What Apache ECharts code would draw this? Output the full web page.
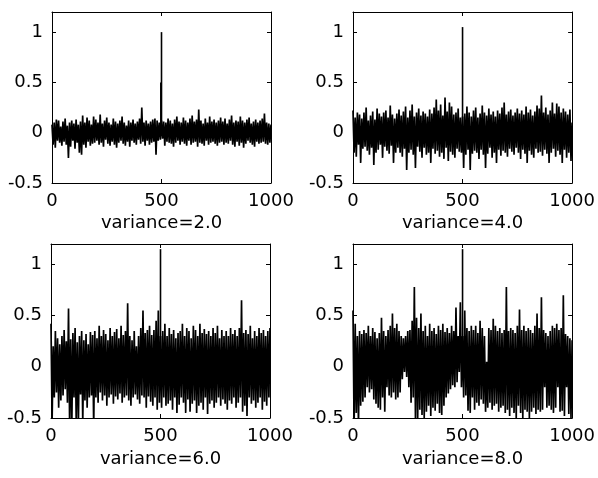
<!DOCTYPE html>
<html>
<head>
<meta charset="utf-8">
<script src="https://cdn.jsdelivr.net/npm/echarts@6/dist/echarts.min.js"></script>
<style>
html,body{margin:0;padding:0;background:#fff;}
#chart{width:598px;height:478px;}
</style>
</head>
<body>
<div id="chart"></div>
<script>
// sample spacing along x (samples 0..1000)
const sampleStep = 5;
const xTicks = [0, 500, 1000];
const yTicks = [-0.5, 0, 0.5, 1];
const panelNames = ['variance=2.0', 'variance=4.0', 'variance=6.0', 'variance=8.0'];

// impulse (signal) samples on top of the noise, per panel
const spikeX2 = [497, 500], spikeY2 = [0.5, 1.0];
const spikeX4 = [500], spikeY4 = [1.05];
const spikeX6 = [500], spikeY6 = [1.15];
const spikeX8 = [500], spikeY8 = [1.15];

const var2 = [
0.08,-0.12,0.1,-0.15,0.13,-0.08,0.12,-0.1,0.06,-0.13,
0.11,-0.09,0.14,-0.12,0.07,-0.25,0.1,-0.14,0.12,-0.08,
0.09,-0.16,0.13,-0.1,0.08,-0.2,0.11,-0.22,0.17,-0.12,
0.1,-0.15,0.15,-0.09,0.12,-0.13,0.08,-0.11,0.16,-0.1,
0.13,-0.08,0.1,-0.12,0.18,-0.1,0.09,-0.14,0.12,-0.07,
0.15,-0.11,0.1,-0.13,0.08,-0.09,0.14,-0.12,0.11,-0.15,
0.09,-0.1,0.12,-0.08,0.16,-0.11,0.1,-0.13,0.07,-0.09,
0.12,-0.14,0.1,-0.08,0.13,-0.1,0.09,-0.12,0.11,-0.07,
0.14,-0.11,0.25,-0.09,0.1,-0.13,0.12,-0.08,0.09,-0.12,
0.11,-0.1,0.13,-0.09,0.14,-0.22,0.12,-0.08,0.1,-0.07,
0.12,-0.06,0.11,-0.13,0.1,-0.09,0.14,-0.1,0.12,-0.11,
0.09,-0.14,0.13,-0.1,0.16,-0.08,0.11,-0.12,0.1,-0.09,
0.15,-0.11,0.12,-0.13,0.1,-0.08,0.14,-0.12,0.17,-0.1,
0.11,-0.09,0.13,-0.14,0.23,-0.1,0.12,-0.11,0.09,-0.13,
0.14,-0.08,0.1,-0.12,0.16,-0.1,0.11,-0.09,0.13,-0.11,
0.1,-0.13,0.12,-0.1,0.15,-0.09,0.11,-0.12,0.14,-0.1,
0.09,-0.11,0.13,-0.08,0.17,-0.12,0.1,-0.14,0.12,-0.09,
0.11,-0.13,0.16,-0.1,0.12,-0.15,0.1,-0.11,0.13,-0.08,
0.15,-0.1,0.09,-0.12,0.11,-0.14,0.13,-0.09,0.1,-0.11,
0.12,-0.1,0.14,-0.09,0.19,-0.11,0.1,-0.12,0.09,-0.1,
0.08];

const var4 = [
0.22,-0.2,0.15,-0.24,0.2,-0.12,0.18,-0.3,0.14,-0.16,
0.2,-0.14,0.25,-0.18,0.12,-0.22,0.17,-0.15,0.21,-0.32,
0.13,-0.2,0.24,-0.17,0.19,-0.12,0.16,-0.25,0.2,-0.14,
0.22,-0.18,0.15,-0.21,0.27,-0.13,0.18,-0.3,0.14,-0.2,
0.19,-0.15,0.23,-0.2,0.17,-0.24,0.21,-0.16,0.26,-0.37,
0.15,-0.2,0.22,-0.17,0.28,-0.22,0.16,-0.35,0.2,-0.14,
0.24,-0.19,0.17,-0.25,0.21,-0.15,0.19,-0.22,0.16,-0.2,
0.23,-0.3,0.19,-0.16,0.25,-0.21,0.33,-0.18,0.22,-0.24,
0.28,-0.2,0.17,-0.26,0.35,-0.15,0.21,-0.28,0.3,-0.19,
0.26,-0.22,0.18,-0.25,0.2,-0.16,0.24,-0.19,0.15,-0.2,
0.16,-0.35,0.19,-0.22,0.26,-0.17,0.2,-0.37,0.16,-0.21,
0.22,-0.18,0.25,-0.2,0.15,-0.26,0.19,-0.17,0.27,-0.22,
0.2,-0.35,0.17,-0.21,0.24,-0.15,0.18,-0.25,0.21,-0.2,
0.16,-0.3,0.22,-0.17,0.19,-0.23,0.25,-0.18,0.3,-0.2,
0.18,-0.24,0.21,-0.16,0.23,-0.19,0.17,-0.22,0.2,-0.15,
0.24,-0.2,0.19,-0.26,0.22,-0.17,0.18,-0.21,0.26,-0.3,
0.2,-0.18,0.23,-0.22,0.17,-0.25,0.21,-0.16,0.27,-0.2,
0.24,-0.19,0.37,-0.23,0.2,-0.17,0.25,-0.21,0.18,-0.3,
0.22,-0.2,0.3,-0.16,0.19,-0.24,0.29,-0.18,0.26,-0.22,
0.2,-0.3,0.24,-0.17,0.21,-0.25,0.18,-0.2,0.23,-0.28,
0.1];

const var6 = [
0.42,-0.55,0.2,-0.3,0.35,-0.25,0.28,-0.4,0.22,-0.33,
0.3,-0.28,0.36,-0.22,0.25,-0.35,0.57,-0.55,0.27,-0.6,
0.33,-0.3,0.38,-0.52,0.24,-0.58,0.3,-0.27,0.35,-0.55,
0.26,-0.33,0.32,-0.4,0.22,-0.3,0.34,-0.28,0.31,-0.6,
0.35,-0.3,0.28,-0.35,0.4,-0.25,0.3,-0.33,0.36,-0.28,
0.32,-0.38,0.26,-0.3,0.38,-0.27,0.3,-0.36,0.34,-0.29,
0.37,-0.32,0.28,-0.26,0.4,-0.35,0.31,-0.3,0.35,-0.28,
0.62,-0.33,0.3,-0.38,0.26,-0.3,0.35,-0.27,0.2,-0.32,
0.3,-0.36,0.38,-0.28,0.55,-0.3,0.33,-0.4,0.36,-0.29,
0.4,-0.34,0.31,-0.38,0.36,-0.3,0.45,-0.42,0.55,-0.35,
0.3,-0.4,0.35,-0.3,0.42,-0.38,0.3,-0.36,0.38,-0.33,
0.32,-0.42,0.36,-0.3,0.28,-0.45,0.33,-0.37,0.35,-0.3,
0.42,-0.35,0.3,-0.45,0.38,-0.32,0.35,-0.44,0.28,-0.36,
0.4,-0.33,0.36,-0.45,0.3,-0.38,0.42,-0.35,0.33,-0.42,
0.37,-0.3,0.32,-0.46,0.35,-0.36,0.3,-0.33,0.38,-0.4,
0.33,-0.35,0.4,-0.3,0.28,-0.38,0.36,-0.32,0.3,-0.36,
0.35,-0.42,0.3,-0.33,0.38,-0.36,0.32,-0.3,0.36,-0.4,
0.3,-0.35,0.38,-0.3,0.65,-0.44,0.33,-0.38,0.36,-0.48,
0.32,-0.3,0.4,-0.36,0.28,-0.33,0.35,-0.4,0.3,-0.35,
0.38,-0.3,0.33,-0.42,0.36,-0.34,0.3,-0.38,0.35,-0.3,
0.38];

const var8 = [
0.55,-0.6,0.42,-0.45,0.3,-0.58,0.35,-0.38,0.32,-0.34,
0.36,-0.3,0.33,-0.2,0.4,-0.25,0.3,-0.22,0.38,-0.32,
0.34,-0.36,0.28,-0.4,0.33,-0.42,0.48,-0.3,0.35,-0.44,
0.3,-0.2,0.36,-0.28,0.4,-0.3,0.52,-0.25,0.38,-0.32,
0.42,-0.3,0.35,-0.25,0.3,-0.12,0.28,-0.05,0.3,-0.1,
0.35,-0.2,0.36,-0.35,0.45,-0.3,0.78,-0.5,0.48,-0.55,
0.38,-0.42,0.52,-0.47,0.35,-0.5,0.4,-0.44,0.3,-0.38,
0.42,-0.48,0.35,-0.4,0.38,-0.43,0.32,-0.36,0.4,-0.45,
0.36,-0.47,0.42,-0.38,0.34,-0.3,0.38,-0.26,0.33,-0.22,
0.4,-0.18,0.35,-0.2,0.58,-0.15,0.3,-0.05,0.63,-0.2,
0.3,-0.3,0.55,-0.28,0.38,-0.43,0.35,-0.45,0.4,-0.3,
0.36,-0.42,0.4,-0.35,0.33,-0.38,0.45,-0.32,0.38,-0.36,
0.3,-0.44,0.05,-0.4,0.38,-0.35,0.36,-0.42,0.47,-0.38,
0.4,-0.36,0.35,-0.44,0.38,-0.4,0.33,-0.38,0.36,-0.45,
0.78,-0.42,0.35,-0.48,0.38,-0.4,0.36,-0.45,0.33,-0.5,
0.4,-0.38,0.56,-0.45,0.36,-0.5,0.4,-0.42,0.35,-0.44,
0.38,-0.5,0.36,-0.44,0.33,-0.4,0.4,-0.46,0.52,-0.42,
0.38,-0.44,0.68,-0.42,0.36,-0.2,0.33,-0.4,0.3,-0.38,
0.35,-0.42,0.4,-0.45,0.38,-0.4,0.42,-0.2,0.36,-0.44,
0.38,-0.43,0.7,-0.48,0.32,-0.2,0.3,-0.46,0.28,-0.5,
0.26];

const panelValues = [var2, var4, var6, var8];
const panelSpikes = [[spikeX2, spikeY2], [spikeX4, spikeY4], [spikeX6, spikeY6], [spikeX8, spikeY8]];

const grids = [
  {left: 52, top: 12, width: 219, height: 171},
  {left: 353, top: 12, width: 222, height: 171},
  {left: 51, top: 244, width: 219, height: 174},
  {left: 353, top: 244, width: 223, height: 174}
];

const FONT = '"DejaVu Sans", Verdana, sans-serif';
const txt = {color: '#000', fontFamily: FONT, fontSize: 18};

const xAxes = [], yAxes = [], series = [];
grids.forEach((g, k) => {
  const base = {
    type: 'value', gridIndex: k, min: xTicks[0], max: xTicks[xTicks.length - 1],
    interval: xTicks[1] - xTicks[0],
    axisLine: {show: true, onZero: false, lineStyle: {color: '#000', width: 1}},
    axisTick: {show: true, inside: true, length: 4, lineStyle: {color: '#000'}},
    splitLine: {show: false}
  };
  xAxes.push(Object.assign({}, base, {
    position: 'bottom',
    name: panelNames[k], nameLocation: 'middle', nameGap: k < 2 ? 31 : 32,
    nameTextStyle: txt,
    axisLabel: Object.assign({margin: 9, formatter: v => String(v)}, txt)
  }));
  xAxes.push(Object.assign({}, base, {
    position: 'top', axisLabel: {show: false}
  }));
  const ybase = {
    type: 'value', gridIndex: k, min: yTicks[0], max: 1.2,
    interval: yTicks[1] - yTicks[0],
    axisLine: {show: true, onZero: false, lineStyle: {color: '#000', width: 1}},
    axisTick: {show: true, inside: true, length: 4, lineStyle: {color: '#000'}},
    splitLine: {show: false}
  };
  yAxes.push(Object.assign({}, ybase, {
    position: 'left',
    axisLabel: Object.assign({margin: 9, showMaxLabel: false,
      formatter: v => (yTicks.indexOf(Math.round(v * 10) / 10) >= 0 ? String(v) : '')}, txt)
  }));
  yAxes.push(Object.assign({}, ybase, {
    position: 'right', axisLabel: {show: false}
  }));
  series.push({
    type: 'line', xAxisIndex: 2 * k, yAxisIndex: 2 * k,
    data: panelValues[k].map((v, i) => [i * sampleStep, v]),
    showSymbol: false, symbol: 'none', clip: true,
    lineStyle: {color: '#000', width: 1.7},
    silent: true
  });
  const [sx, sy] = panelSpikes[k];
  series.push({
    type: 'bar', xAxisIndex: 2 * k, yAxisIndex: 2 * k,
    data: sx.map((x, i) => [x, sy[i]]),
    barWidth: 1.6, itemStyle: {color: '#000'},
    silent: true, clip: true
  });
});

const chart = echarts.init(document.getElementById('chart'), null, {renderer: 'canvas'});
chart.setOption({
  animation: false,
  backgroundColor: '#fff',
  grid: grids,
  xAxis: xAxes,
  yAxis: yAxes,
  series: series
});
</script>
</body>
</html>
